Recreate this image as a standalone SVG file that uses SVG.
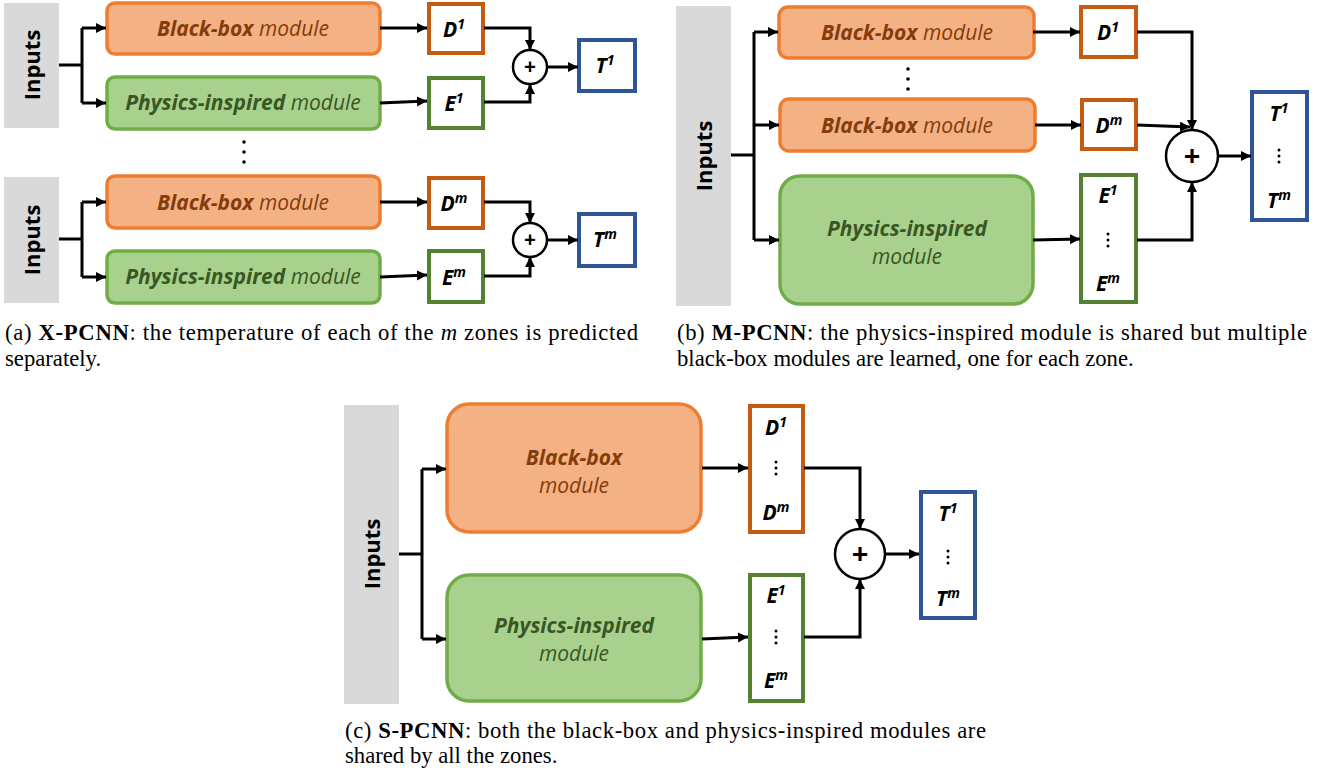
<svg xmlns="http://www.w3.org/2000/svg" width="1333" height="781" viewBox="0 0 1333 781">
  <style>
    .inp { fill: #D9D9D9; }
    .inpt { font-family: "Open Sans", "Liberation Sans", sans-serif; font-weight: bold; font-size: 22px; fill: #000; text-anchor: middle; }
    .bb { fill: #F4B183; stroke: #ED7D31; stroke-width: 3.5; }
    .pi { fill: #A9D18E; stroke: #70AD47; stroke-width: 3.5; }
    .bbt { font-family: "Open Sans", "Liberation Sans", sans-serif; font-style: italic; font-size: 21px; fill: #843C0C; text-anchor: middle; }
    .pit { font-family: "Open Sans", "Liberation Sans", sans-serif; font-style: italic; font-size: 21px; fill: #385723; text-anchor: middle; }
    .b { font-weight: bold; }
    .dbox { fill: #fff; stroke: #C55A11; stroke-width: 4; }
    .ebox { fill: #fff; stroke: #548235; stroke-width: 4; }
    .tbox { fill: #fff; stroke: #2F5597; stroke-width: 4; }
    .var { font-family: "Open Sans", "Liberation Sans", sans-serif; font-style: italic; font-weight: bold; font-size: 21px; fill: #000; text-anchor: middle; }
    .sup { font-size: 14px; }
    .sum { fill: #fff; stroke: #000; stroke-width: 2.5; }
    .plus { font-family: "Open Sans", "Liberation Sans", sans-serif; font-weight: bold; fill: #000; text-anchor: middle; }
    .dot { fill: #000; }
    .wire { fill: none; stroke: #000; stroke-width: 3; }
    .cap { font-family: "Liberation Serif", "Times New Roman", serif; font-size: 22.7px; fill: #000; }
  </style>
  <defs>
    <marker id="arr" markerUnits="userSpaceOnUse" markerWidth="11" markerHeight="11" refX="10" refY="5" orient="auto">
      <path d="M0,0 L10,5 L0,10 z" fill="#000"/>
    </marker>
  </defs>

  <!-- (a) X-PCNN, zone 1 -->
  <g id="a1-inputs"><rect class="inp" x="4" y="3" width="55" height="125"/><text class="inpt" transform="translate(40,65) rotate(-90)">Inputs</text></g>
  <g id="a1-blackbox"><rect class="bb" x="107" y="3" width="273" height="51" rx="8"/><text class="bbt" x="243" y="36"><tspan class="b">Black-box</tspan> module</text></g>
  <g id="a1-physics"><rect class="pi" x="107" y="77" width="273" height="52" rx="8"/><text class="pit" x="243" y="110"><tspan class="b">Physics-inspired</tspan> module</text></g>
  <g id="a1-d"><rect class="dbox" x="429" y="4" width="54" height="49"/><text class="var" x="454" y="37">D<tspan class="sup" dy="-8">1</tspan></text></g>
  <g id="a1-e"><rect class="ebox" x="429" y="78" width="54" height="50"/><text class="var" x="454" y="111">E<tspan class="sup" dy="-8">1</tspan></text></g>
  <g id="a1-sum"><circle class="sum" cx="530" cy="67" r="17"/><text class="plus" x="530" y="74" font-size="21">+</text></g>
  <g id="a1-t"><rect class="tbox" x="579" y="40" width="56" height="51"/><text class="var" x="605" y="73">T<tspan class="sup" dy="-8">1</tspan></text></g>

  <!-- (a) vertical ellipsis between zones -->
  <g id="a-ellipsis"><circle class="dot" cx="244" cy="142" r="1.8"/><circle class="dot" cx="244" cy="152" r="1.8"/><circle class="dot" cx="244" cy="162" r="1.8"/></g>

  <!-- (a) X-PCNN, zone m -->
  <g id="a2-inputs"><rect class="inp" x="4" y="177" width="55" height="126"/><text class="inpt" transform="translate(40,240) rotate(-90)">Inputs</text></g>
  <g id="a2-blackbox"><rect class="bb" x="107" y="176" width="273" height="52" rx="8"/><text class="bbt" x="243" y="210"><tspan class="b">Black-box</tspan> module</text></g>
  <g id="a2-physics"><rect class="pi" x="107" y="251" width="273" height="52" rx="8"/><text class="pit" x="243" y="284"><tspan class="b">Physics-inspired</tspan> module</text></g>
  <g id="a2-d"><rect class="dbox" x="429" y="178" width="54" height="50"/><text class="var" x="454" y="211">D<tspan class="sup" dy="-8">m</tspan></text></g>
  <g id="a2-e"><rect class="ebox" x="429" y="251" width="54" height="51"/><text class="var" x="454" y="285">E<tspan class="sup" dy="-8">m</tspan></text></g>
  <g id="a2-sum"><circle class="sum" cx="530" cy="240" r="17"/><text class="plus" x="530" y="247" font-size="21">+</text></g>
  <g id="a2-t"><rect class="tbox" x="579" y="214" width="56" height="52"/><text class="var" x="605" y="247">T<tspan class="sup" dy="-8">m</tspan></text></g>

  <!-- (b) M-PCNN -->
  <g id="b-inputs"><rect class="inp" x="676" y="6" width="55" height="300"/><text class="inpt" transform="translate(712,156) rotate(-90)">Inputs</text></g>
  <g id="b-blackbox1"><rect class="bb" x="779" y="7" width="255" height="51" rx="9"/><text class="bbt" x="907" y="40"><tspan class="b">Black-box</tspan> module</text></g>
  <g id="b-ellipsis"><circle class="dot" cx="908" cy="69" r="1.8"/><circle class="dot" cx="908" cy="79" r="1.8"/><circle class="dot" cx="908" cy="89" r="1.8"/></g>
  <g id="b-blackboxm"><rect class="bb" x="780" y="99" width="255" height="52" rx="9"/><text class="bbt" x="907" y="133"><tspan class="b">Black-box</tspan> module</text></g>
  <g id="b-physics"><rect class="pi" x="780" y="176" width="253" height="128" rx="20"/><text class="pit b" x="907" y="236">Physics-inspired</text><text class="pit" x="907" y="264">module</text></g>
  <g id="b-d1"><rect class="dbox" x="1081" y="7" width="55" height="50"/><text class="var" x="1108" y="40">D<tspan class="sup" dy="-8">1</tspan></text></g>
  <g id="b-dm"><rect class="dbox" x="1082" y="100" width="54" height="49"/><text class="var" x="1109" y="133">D<tspan class="sup" dy="-8">m</tspan></text></g>
  <g id="b-e"><rect class="ebox" x="1081" y="175" width="55" height="127"/><text class="var" x="1108" y="203">E<tspan class="sup" dy="-8">1</tspan></text><circle class="dot" cx="1108" cy="234" r="1.5"/><circle class="dot" cx="1108" cy="240" r="1.5"/><circle class="dot" cx="1108" cy="246" r="1.5"/><text class="var" x="1108" y="291">E<tspan class="sup" dy="-8">m</tspan></text></g>
  <g id="b-sum"><circle class="sum" cx="1192" cy="156" r="26"/><text class="plus" x="1192" y="166" font-size="29">+</text></g>
  <g id="b-t"><rect class="tbox" x="1252" y="92" width="55" height="128"/><text class="var" x="1279" y="121">T<tspan class="sup" dy="-8">1</tspan></text><circle class="dot" cx="1279" cy="150" r="1.5"/><circle class="dot" cx="1279" cy="156" r="1.5"/><circle class="dot" cx="1279" cy="162" r="1.5"/><text class="var" x="1279" y="208">T<tspan class="sup" dy="-8">m</tspan></text></g>

  <!-- (c) S-PCNN -->
  <g id="c-inputs"><rect class="inp" x="344" y="405" width="55" height="299"/><text class="inpt" transform="translate(380,554) rotate(-90)">Inputs</text></g>
  <g id="c-blackbox"><rect class="bb" x="447" y="404" width="254" height="128" rx="22"/><text class="bbt b" x="574" y="465">Black-box</text><text class="bbt" x="574" y="493">module</text></g>
  <g id="c-physics"><rect class="pi" x="447" y="575" width="254" height="126" rx="22"/><text class="pit b" x="574" y="633">Physics-inspired</text><text class="pit" x="574" y="661">module</text></g>
  <g id="c-d"><rect class="dbox" x="750" y="406" width="53" height="126"/><text class="var" x="776" y="435">D<tspan class="sup" dy="-8">1</tspan></text><circle class="dot" cx="776" cy="462" r="1.5"/><circle class="dot" cx="776" cy="468" r="1.5"/><circle class="dot" cx="776" cy="474" r="1.5"/><text class="var" x="776" y="520">D<tspan class="sup" dy="-8">m</tspan></text></g>
  <g id="c-e"><rect class="ebox" x="750" y="575" width="53" height="126"/><text class="var" x="776" y="603">E<tspan class="sup" dy="-8">1</tspan></text><circle class="dot" cx="776" cy="631" r="1.5"/><circle class="dot" cx="776" cy="637" r="1.5"/><circle class="dot" cx="776" cy="643" r="1.5"/><text class="var" x="776" y="688">E<tspan class="sup" dy="-8">m</tspan></text></g>
  <g id="c-sum"><circle class="sum" cx="860" cy="554" r="25"/><text class="plus" x="860" y="564" font-size="29">+</text></g>
  <g id="c-t"><rect class="tbox" x="921" y="492" width="54" height="126"/><text class="var" x="948" y="521">T<tspan class="sup" dy="-8">1</tspan></text><circle class="dot" cx="948" cy="551" r="1.5"/><circle class="dot" cx="948" cy="557" r="1.5"/><circle class="dot" cx="948" cy="563" r="1.5"/><text class="var" x="948" y="606">T<tspan class="sup" dy="-8">m</tspan></text></g>

  <!-- connectors -->
  <g id="connectors" class="wire">
    <!-- (a) zone 1 -->
    <path d="M59,65 H82"/>
    <path d="M82,28 V103"/>
    <path d="M82,28 H106" marker-end="url(#arr)"/>
    <path d="M82,103 H106" marker-end="url(#arr)"/>
    <path d="M380,28 H427" marker-end="url(#arr)"/>
    <path d="M380,103 L427,101" marker-end="url(#arr)"/>
    <path d="M484,28 H530 V50" marker-end="url(#arr)"/>
    <path d="M484,102 H530 V84" marker-end="url(#arr)"/>
    <path d="M547,67 H578" marker-end="url(#arr)"/>
    <!-- (a) zone m -->
    <path d="M59,239 H82"/>
    <path d="M82,202 V277"/>
    <path d="M82,202 H106" marker-end="url(#arr)"/>
    <path d="M82,277 H106" marker-end="url(#arr)"/>
    <path d="M380,202 H427" marker-end="url(#arr)"/>
    <path d="M380,277 L427,275" marker-end="url(#arr)"/>
    <path d="M484,202 H530 V223" marker-end="url(#arr)"/>
    <path d="M484,276 H530 V257" marker-end="url(#arr)"/>
    <path d="M547,240 H578" marker-end="url(#arr)"/>
    <!-- (b) -->
    <path d="M731,155 H754"/>
    <path d="M754,32 V240"/>
    <path d="M754,32 H778" marker-end="url(#arr)"/>
    <path d="M754,125 H779" marker-end="url(#arr)"/>
    <path d="M754,240 H779" marker-end="url(#arr)"/>
    <path d="M1033,32 H1080" marker-end="url(#arr)"/>
    <path d="M1035,125 H1081" marker-end="url(#arr)"/>
    <path d="M1033,240 L1080,239" marker-end="url(#arr)"/>
    <path d="M1137,32 H1192 V130" marker-end="url(#arr)"/>
    <path d="M1137,125 L1190,127" marker-end="url(#arr)"/>
    <path d="M1137,240 H1192 V182" marker-end="url(#arr)"/>
    <path d="M1218,156 H1251" marker-end="url(#arr)"/>
    <!-- (c) -->
    <path d="M399,554 H422"/>
    <path d="M422,469 V639"/>
    <path d="M422,469 H446" marker-end="url(#arr)"/>
    <path d="M422,639 H446" marker-end="url(#arr)"/>
    <path d="M702,468 H748" marker-end="url(#arr)"/>
    <path d="M702,639 L748,637" marker-end="url(#arr)"/>
    <path d="M804,468 H860 V529" marker-end="url(#arr)"/>
    <path d="M804,637 H860 V579" marker-end="url(#arr)"/>
    <path d="M885,554 H919" marker-end="url(#arr)"/>
  </g>

  <!-- captions -->
  <g id="captions" class="cap">
    <text x="5" y="340" textLength="633" lengthAdjust="spacing">(a) <tspan font-weight="bold">X-PCNN</tspan>: the temperature of each of the <tspan font-style="italic">m</tspan> zones is predicted</text>
    <text x="5" y="366">separately.</text>
    <text x="677" y="340" textLength="630" lengthAdjust="spacing">(b) <tspan font-weight="bold">M-PCNN</tspan>: the physics-inspired module is shared but multiple</text>
    <text x="677" y="366">black-box modules are learned, one for each zone.</text>
    <text x="345" y="738" textLength="641" lengthAdjust="spacing">(c) <tspan font-weight="bold">S-PCNN</tspan>: both the black-box and physics-inspired modules are</text>
    <text x="345" y="763">shared by all the zones.</text>
  </g>
</svg>
